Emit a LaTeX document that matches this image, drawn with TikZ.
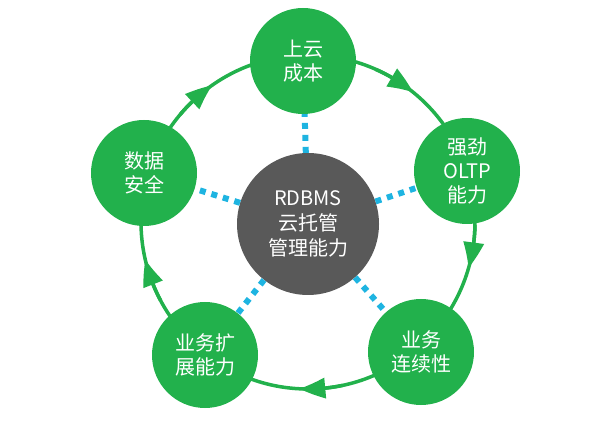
\documentclass[tikz,border=0pt]{standalone}
\usepackage{fontspec}
\newfontfamily\cjk{Noto Sans CJK SC}
\usetikzlibrary{arrows.meta,bending}

\definecolor{ringgreen}{RGB}{34,177,76}
\definecolor{coregray}{RGB}{89,89,89}
\definecolor{dotblue}{RGB}{30,180,225}

\tikzset{
  item/.style={circle,fill=ringgreen,minimum size=106pt,inner sep=0pt,
    text=white,align=center,font=\cjk\fontsize{20}{24}\selectfont},
  core/.style={circle,fill=coregray,minimum size=142pt,inner sep=0pt,
    text=white,align=center,font=\cjk\fontsize{20}{25}\selectfont},
  ring/.style={ringgreen,line width=3.5pt},
  ringarrow/.style={ring,-{Triangle[length=26pt 0 0,width=20pt 0 0,bend]}},
  link/.style={dotblue,line width=6pt,dash pattern=on 6pt off 6pt}
}

\begin{document}
\begin{tikzpicture}[x=1pt,y=1pt]
    \useasboundingbox (0,0) rectangle (604,420);

    % ring with arrows
    \coordinate (c) at (308,198);
    \draw[ring] (c) circle (167pt);
    \draw[ringarrow] (c) ++(66:167pt) arc[start angle=66,end angle=51,radius=167pt];
    \draw[ringarrow] (c) ++(-1:167pt) arc[start angle=-1,end angle=-16,radius=167pt];
    \draw[ringarrow] (c) ++(-78:167pt) arc[start angle=-78,end angle=-93,radius=167pt];
    \draw[ringarrow] (c) ++(-152:167pt) arc[start angle=-152,end angle=-167,radius=167pt];
    \draw[ringarrow] (c) ++(140:167pt) arc[start angle=140,end angle=125,radius=167pt];

    % nodes
    \node[core] (core) at (308,196) {RDBMS\\云托管\\管理能力};
    \node[item] (cost) at (303,359) {上云\\成本};
    \node[item] (oltp) at (467,249) {强劲\\OLTP\\能力};
    \node[item] (cont) at (421,68) {业务\\连续性};
    \node[item] (scale) at (205,65) {业务扩\\展能力};
    \node[item] (safe) at (144,247) {数据\\安全};

    \draw[link] (core) -- (cost);
    \draw[link] (core) -- (oltp);
    \draw[link] (core) -- (cont);
    \draw[link] (core) -- (scale);
    \draw[link] (core) -- (safe);
\end{tikzpicture}
\end{document}
